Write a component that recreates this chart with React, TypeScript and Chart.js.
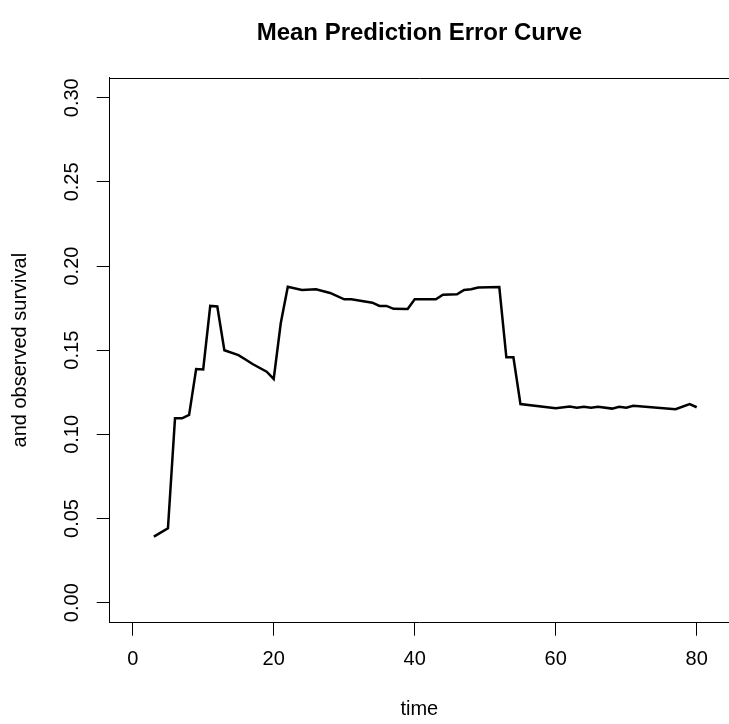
import React, { useEffect, useRef } from "react";
import { Chart, registerables } from "chart.js";

Chart.register(...registerables);

const FONT = "'Liberation Sans', Arial, Helvetica, sans-serif";

const titleText = "Mean Prediction Error Curve";
const xTitle = "time";
const yTitle = "and observed survival";

const times = [
  3, 5, 6, 7, 8, 9, 10, 11, 12, 13, 15, 16, 17, 19, 20, 21, 22, 24, 26, 28,
  30, 31, 34, 35, 36, 37, 39, 40, 43, 44, 46, 47, 48, 49, 52, 53, 54, 55, 60,
  62, 63, 64, 65, 66, 68, 69, 70, 71, 77, 79, 80,
];
const errors = [
  0.0392, 0.0442, 0.1095, 0.1095, 0.1116, 0.1388, 0.1386, 0.1763, 0.176, 0.15,
  0.1471, 0.1445, 0.1418, 0.1372, 0.1329, 0.166, 0.1877, 0.1858, 0.1862, 0.184,
  0.1802, 0.1802, 0.1782, 0.1763, 0.1763, 0.1746, 0.1745, 0.1803, 0.1803,
  0.183, 0.1832, 0.1858, 0.1862, 0.1872, 0.1875, 0.1458, 0.1458, 0.118, 0.1155,
  0.1165, 0.1158, 0.1164, 0.1158, 0.1164, 0.1153, 0.1164, 0.1158, 0.117,
  0.1149, 0.118, 0.1161,
];

const xTicks = [0, 20, 40, 60, 80];
const yTicks = [0, 0.05, 0.1, 0.15, 0.2, 0.25, 0.3];
const yTickLabels = ["0.00", "0.05", "0.10", "0.15", "0.20", "0.25", "0.30"];

const X_MIN = -3.262;
const X_MAX = 84.58;
const Y_MIN = -0.0119;
const Y_MAX = 0.3119;

const framePlugin = {
  id: "frameAndYLabels",
  afterDraw(chart: any) {
    const ctx = chart.ctx;
    const a = chart.chartArea;
    const ys = chart.scales.y;
    ctx.save();
    ctx.strokeStyle = "#000";
    ctx.lineWidth = 1;
    ctx.beginPath();
    const ty = Math.round(a.top) + 0.5;
    ctx.moveTo(a.left, ty);
    ctx.lineTo(a.right, ty);
    ctx.stroke();

    ctx.fillStyle = "#000";
    ctx.font = `20px ${FONT}`;
    ctx.textAlign = "center";
    ctx.textBaseline = "alphabetic";
    const bx = ys.right - 32;
    yTicks.forEach((v, i) => {
      const py = ys.getPixelForValue(v);
      ctx.save();
      ctx.translate(bx, py);
      ctx.rotate(-Math.PI / 2);
      ctx.fillText(yTickLabels[i], 0, 0);
      ctx.restore();
    });
    ctx.restore();
  },
};

export default function App() {
  const ref = useRef<HTMLCanvasElement | null>(null);

  useEffect(() => {
    if (!ref.current) return;
    const data = times.map((t, i) => ({ x: t, y: errors[i] }));
    const chart = new Chart(ref.current, {
      type: "line",
      data: {
        datasets: [
          {
            data,
            borderColor: "#000",
            borderWidth: 2.5,
            pointRadius: 0,
            tension: 0,
            fill: false,
          },
        ],
      },
      options: {
        responsive: false,
        animation: false,
        devicePixelRatio: 1,
        layout: { padding: 0 },
        plugins: {
          legend: { display: false },
          tooltip: { enabled: false },
          title: {
            display: true,
            text: titleText,
            fullSize: false,
            color: "#000",
            font: { family: FONT, size: 24, weight: "bold", lineHeight: 1.2 },
            padding: { top: 18.6, bottom: 30.3 },
          },
        },
        scales: {
          x: {
            type: "linear",
            min: X_MIN,
            max: X_MAX,
            afterBuildTicks: (s: any) => {
              s.ticks = xTicks.map((v) => ({ value: v }));
            },
            afterFit: (s: any) => {
              s.height = 101.3;
            },
            ticks: {
              autoSkip: false,
              maxRotation: 0,
              minRotation: 0,
              color: "#000",
              padding: 12,
              font: { family: FONT, size: 20 },
              callback: (v: any) => String(v),
            },
            grid: {
              drawOnChartArea: false,
              drawTicks: true,
              tickLength: 13,
              color: "#000",
              lineWidth: 1,
            },
            border: { display: true, color: "#000", width: 1 },
            title: {
              display: true,
              text: xTitle,
              color: "#000",
              font: { family: FONT, size: 20, lineHeight: 1.2 },
              padding: { top: 0, bottom: 3 },
            },
          },
          y: {
            type: "linear",
            min: Y_MIN,
            max: Y_MAX,
            afterBuildTicks: (s: any) => {
              s.ticks = yTicks.map((v) => ({ value: v }));
            },
            afterFit: (s: any) => {
              s.width = 109.7;
            },
            ticks: { display: false },
            grid: {
              drawOnChartArea: false,
              drawTicks: true,
              tickLength: 13,
              color: "#000",
              lineWidth: 1,
            },
            border: { display: true, color: "#000", width: 1 },
            title: {
              display: true,
              text: yTitle,
              color: "#000",
              font: { family: FONT, size: 20, lineHeight: 1.2 },
              padding: { top: 8, bottom: 0 },
            },
          },
        },
      },
      plugins: [framePlugin],
    });
    return () => chart.destroy();
  }, []);

  return (
    <div
      style={{
        position: "absolute",
        left: 0,
        top: 0,
        width: 729,
        height: 724,
        background: "#fff",
      }}
    >
      <canvas ref={ref} width={729} height={724} />
    </div>
  );
}
